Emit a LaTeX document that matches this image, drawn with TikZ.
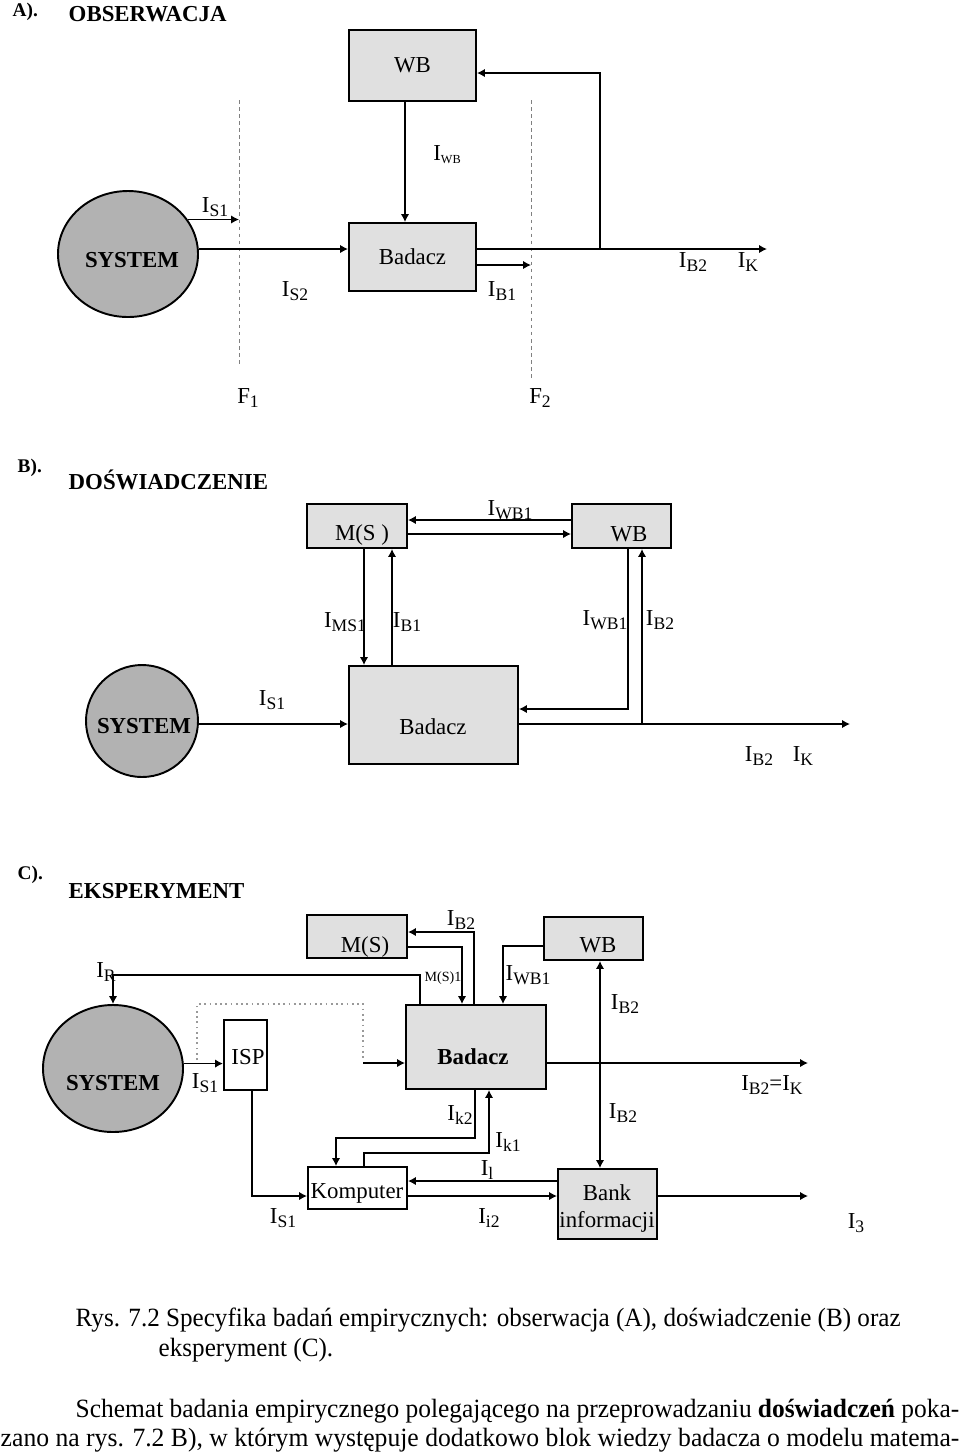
\documentclass[tikz,border=0pt]{standalone}
\usepackage{fontspec}
\setmainfont{Liberation Serif}
\usetikzlibrary{arrows.meta, calc, positioning, shapes.geometric}

\definecolor{boxgray}{gray}{0.88}
\definecolor{sysgray}{gray}{0.70}
\newcommand{\Ilab}[1]{I\raisebox{-0.35ex}{\fontsize{10}{10}\selectfont #1}}

\tikzset{
  box/.style={draw, line width=1.1pt, fill=boxgray, inner sep=0pt},
  wbox/.style={box, fill=white},
  sys/.style={ellipse, draw, line width=1.1pt, fill=sysgray, inner sep=0pt},
  sysname/.style={font=\bfseries\fontsize{13}{15}\selectfont},
  head/.style={anchor=west, font=\bfseries\fontsize{11}{13}\selectfont},
  title/.style={anchor=west, font=\bfseries\fontsize{13}{15}\selectfont},
  fline/.style={gray, line width=0.4pt, dash pattern=on 2pt off 2pt},
  dotline/.style={gray!80, line width=0.6pt, dash pattern=on 1pt off 2pt},
  capline/.style={anchor=west, font=\fontsize{15}{18}\selectfont}
}

\begin{document}
\begin{tikzpicture}[x=0.2mm, y=-0.2mm, >={Latex[length=1.6mm,width=1.7mm]},
  line width=0.85pt,
  every node/.style={inner sep=0pt, font=\fontsize{13}{15}\selectfont}]
\useasboundingbox (0,0) rectangle (960,1456);

% A) obserwacja
\node[head] (hA) at (12,12) {A).};
\node[title] (tA) at (68,14) {OBSERWACJA};

\node[box, minimum width=25.4mm, minimum height=14.2mm] (wbA) at (412.5,65.5) {WB};
\node[box, minimum width=25.4mm, minimum height=13.6mm] (badA) at (412.5,257) {Badacz};
\node[sys, minimum width=28mm, minimum height=25.2mm] (sysA) at (128,254) {};
\node[sysname] (sysAt) at (132,260) {SYSTEM};

\coordinate (f1a) at (239,100);
\coordinate (f1b) at (239,367);
\coordinate (f2a) at (531,100);
\coordinate (f2b) at (531,378);
\draw[fline] (f1a) -- (f1b);
\draw[fline] (f2a) -- (f2b);

\coordinate (xWB) at (405,0);
\coordinate (jA) at (600,73);
\coordinate (kA) at (600,249);
\coordinate (outA) at (767,249);
\coordinate (b1A) at (531,265);

\draw[->] (wbA.south -| xWB) -- (badA.north -| xWB);
\draw[->] (badA.east |- kA) -- (outA);
\draw[->] (kA) -- (jA) -- (wbA.east |- jA);
\draw[->] (sysA.30) -- (sysA.30 -| f1a);
\draw[->] (sysA.east |- kA) -- (badA.west |- kA);
\draw[->] (badA.east |- b1A) -- (b1A);

\node (lWBA) at (447,155) {I\raisebox{-0.3ex}{\fontsize{7}{7}\selectfont WB}};
\node (lS1A) at (215,207) {\Ilab{S1}};
\node (lS2A) at (295,291) {\Ilab{S2}};
\node (lB1A) at (502,291) {\Ilab{B1}};
\node (lB2A) at (693,262) {\Ilab{B2}};
\node (lKA) at (748,262) {\Ilab{K}};
\node (lF1) at (248,398) {F\raisebox{-0.35ex}{\fontsize{10}{10}\selectfont 1}};
\node (lF2) at (540,398) {F\raisebox{-0.35ex}{\fontsize{10}{10}\selectfont 2}};

% B) doswiadczenie
\node[head] (hB) at (17,468) {B).};
\node[title] (tB) at (68,480) {DOŚWIADCZENIE};

\node[box, minimum width=20mm, minimum height=8.8mm] (msB) at (357,526) {};
\node (msBt) at (362,535) {M(S )};
\node[box, minimum width=19.8mm, minimum height=8.8mm] (wbB) at (621.5,526) {};
\node (wbBt) at (629,534) {WB};
\node[box, minimum width=33.8mm, minimum height=19.6mm] (badB) at (433.5,715) {};
\node (badBt) at (433,727) {Badacz};
\node[sys, minimum width=22.4mm, minimum height=22.4mm] (sysB) at (142,721) {};
\node[sysname] (sysBt) at (144,726) {SYSTEM};

\coordinate (yT) at (0,520);
\coordinate (yU) at (0,534);
\coordinate (xMS) at (364,0);
\coordinate (xB1) at (392,0);
\coordinate (xWB1) at (628,0);
\coordinate (xB2) at (642,0);
\coordinate (yWB) at (0,709);
\coordinate (yS) at (0,724);
\coordinate (outB) at (850,724);

\draw[->] (wbB.west |- yT) -- (msB.east |- yT);
\draw[->] (msB.east |- yU) -- (wbB.west |- yU);
\draw[->] (msB.south -| xMS) -- (badB.north -| xMS);
\draw[->] (badB.north -| xB1) -- (msB.south -| xB1);
\draw[->] (wbB.south -| xWB1) |- (badB.east |- yWB);
\draw[->] (sysB.east |- yS) -- (badB.west |- yS);
\draw[->] (badB.east |- yS) -- (outB);
\draw[->] (xB2 |- yS) -- (wbB.south -| xB2);

\node (lWB1Bt) at (510,510) {\Ilab{WB1}};
\node (lMS1B) at (345,622) {\Ilab{MS1}};
\node (lB1B) at (407,622) {\Ilab{B1}};
\node (lWB1B) at (605,620) {\Ilab{WB1}};
\node (lB2B) at (660,620) {\Ilab{B2}};
\node (lS1B) at (272,700) {\Ilab{S1}};
\node (lB2Bb) at (759,756) {\Ilab{B2}};
\node (lKB) at (803,756) {\Ilab{K}};

% C) eksperyment
\node[head] (hC) at (17,875) {C).};
\node[title] (tC) at (68,891) {EKSPERYMENT};

\node[box, minimum width=20mm, minimum height=8.6mm] (msC) at (357,936.5) {};
\node (msCt) at (365,947) {M(S)};
\node[box, minimum width=19.8mm, minimum height=8.6mm] (wbC) at (593.5,938.5) {};
\node (wbCt) at (598,945) {WB};
\node[box, minimum width=28mm, minimum height=16.8mm] (badC) at (476,1047) {};
\node[sysname] (badCt) at (473,1057) {Badacz};
\node[sys, minimum width=28mm, minimum height=25.4mm] (sysC) at (113,1068.5) {};
\node[sysname] (sysCt) at (113,1083) {SYSTEM};
\node[wbox, minimum width=8.6mm, minimum height=14mm] (ispC) at (245.5,1055) {};
\node (ispCt) at (248,1057) {ISP};
\node[wbox, minimum width=19.8mm, minimum height=8.4mm] (kompC) at (357.5,1188) {};
\node (kompCt) at (357,1193) {Komputer};
\node[box, minimum width=19.8mm, minimum height=14mm] (bankC) at (607.5,1204) {};
\node (bankCt) at (607,1193) {Bank};
\node (bankCb) at (607,1222) {informacji};

\coordinate (yR) at (0,975);
\coordinate (xR) at (420,0);
\coordinate (yMa) at (0,932);
\coordinate (xMa) at (474,0);
\coordinate (yMb) at (0,947);
\coordinate (xMb) at (462,0);
\coordinate (yW) at (0,946);
\coordinate (xW) at (503,0);
\coordinate (xV) at (600,0);
\coordinate (yI) at (0,1063);
\coordinate (outC1) at (808,1063);
\coordinate (d1) at (197,1060);
\coordinate (d2) at (363,1004);
\coordinate (xIS) at (252,0);
\coordinate (yKB) at (0,1196);
\coordinate (yBK) at (0,1181);
\coordinate (xk2) at (475,0);
\coordinate (yk2) at (0,1138);
\coordinate (xk2b) at (336,0);
\coordinate (xk1) at (364,0);
\coordinate (yk1) at (0,1153);
\coordinate (xk1b) at (489,0);
\coordinate (outC2) at (808,1196);

\draw[->] (badC.north -| xR) |- (sysC.north |- yR) -- (sysC.north);
\draw[->] (badC.north -| xMa) |- (msC.east |- yMa);
\draw[->] (msC.east |- yMb) -| (badC.north -| xMb);
\draw[->] (wbC.west |- yW) -| (badC.north -| xW);
\draw[<->] (wbC.south -| xV) -- (bankC.north -| xV);
\draw[->] (badC.east |- yI) -- (outC1);
\draw[->] (sysC.4) -- (sysC.4 -| ispC.west);
\draw[dotline] (d1) |- (d2) -- (d2 |- d1);
\draw[->] (d2 |- yI) -- (badC.west |- yI);
\draw[->] (ispC.south -| xIS) |- (kompC.west |- yKB);
\draw[->] (badC.south -| xk2) |- (xk2b |- yk2) -- (kompC.north -| xk2b);
\draw[->] (kompC.north -| xk1) |- (xk1b |- yk1) -- (badC.south -| xk1b);
\draw[->] (bankC.west |- yBK) -- (kompC.east |- yBK);
\draw[->] (kompC.east |- yKB) -- (bankC.west |- yKB);
\draw[->] (bankC.east |- yKB) -- (outC2);

\node (lRC) at (106,972) {\Ilab{R}};
\node (lB2Ct) at (461,920) {\Ilab{B2}};
\node[font=\fontsize{8}{9}\selectfont] (lMSC) at (443,978) {M(S)1};
\node (lWB1C) at (528,975) {\Ilab{WB1}};
\node (lB2Cw) at (625,1004) {\Ilab{B2}};
\node (lS1C) at (205,1083) {\Ilab{S1}};
\node (lBKC) at (772,1085) {\Ilab{B2}=\Ilab{K}};
\node (lk2C) at (460,1115) {\Ilab{k2}};
\node (lB2Cb) at (623,1113) {\Ilab{B2}};
\node (lk1C) at (508,1142) {\Ilab{k1}};
\node (llC) at (487,1170) {\Ilab{l}};
\node (lS1Cb) at (283,1218) {\Ilab{S1}};
\node (li2C) at (489,1218) {\Ilab{i2}};
\node (l3C) at (856,1223) {\Ilab{3}};

% podpis i tekst
\node[capline] (cap1) at (75,1320) {\scalebox{0.953}[1]{Rys. 7.2 Specyfika badań empirycznych: obserwacja (A), doświadczenie (B) oraz}};
\node[capline] (cap2) at (158,1350) {\scalebox{0.953}[1]{eksperyment (C).}};
\node[capline] (txt1) at (75,1411) {\scalebox{0.965}[1]{Schemat badania empirycznego polegającego na przeprowadzaniu \textbf{doświadczeń} poka-}};
\node[capline] (txt2) at (0,1440) {\scalebox{0.973}[1]{zano na rys. 7.2 B), w którym występuje dodatkowo blok wiedzy badacza o modelu matema-}};

\end{tikzpicture}
\end{document}
